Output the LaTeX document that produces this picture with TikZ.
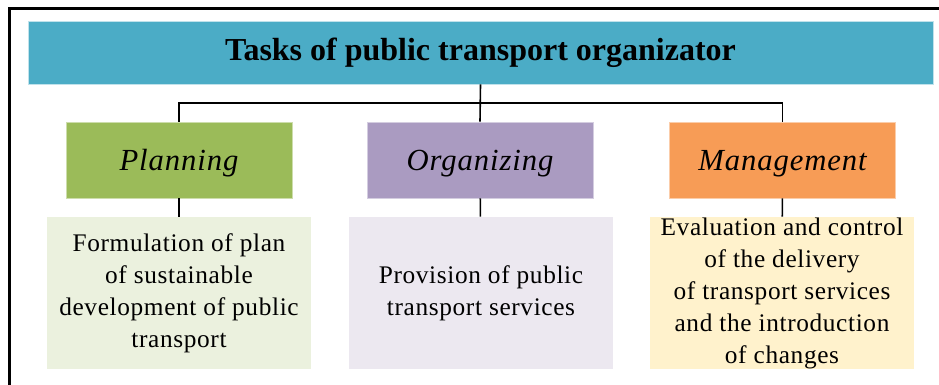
\documentclass[tikz,border=0pt]{standalone}
\usepackage{fontspec}
\setmainfont{Liberation Serif}
\newfontfamily\descfont[LetterSpace=2.5]{Liberation Serif}
\newfontfamily\taskfont[LetterSpace=3]{Liberation Serif}

\definecolor{headblue}{HTML}{4BACC6}
\definecolor{plangreen}{HTML}{9BBB59}
\definecolor{orgviolet}{HTML}{AA9BC1}
\definecolor{mgmtorange}{HTML}{F79C56}
\definecolor{planlight}{HTML}{EBF1DE}
\definecolor{orglight}{HTML}{ECE8F0}
\definecolor{mgmtlight}{HTML}{FFF2CC}

\tikzset{
  headbox/.style={fill=headblue, draw=headblue!35!white, line width=0.6pt, minimum width=678.75pt, minimum height=47.25pt, inner sep=0pt, font=\fontsize{24}{29}\selectfont\bfseries},
  taskbox/.style={line width=0.4pt, minimum width=169.5pt, minimum height=57pt, inner sep=0pt, text depth=0pt, font=\taskfont\fontsize{23}{28}\selectfont\itshape},
  descbox/.style={minimum width=198pt, minimum height=114pt, inner sep=0pt, align=center, font=\descfont\fontsize{19}{24}\selectfont},
  link/.style={line width=1.2pt, black}
}

\begin{document}
\begin{tikzpicture}[x=0.75pt,y=-0.75pt]

\useasboundingbox (0,0) rectangle (939,385);
\draw[line width=2.25pt] (9,385) -- (9,9) -- (939,9);

\node[headbox] (head) at (480.5,52.5) {Tasks of public transport organizator};

\node[taskbox, fill=plangreen, draw=plangreen!50!white] (plan) at (179,160) {Planning};
\node[taskbox, fill=orgviolet, draw=orgviolet!50!white] (org) at (480,160) {Organizing};
\node[taskbox, fill=mgmtorange, draw=mgmtorange!50!white] (mgmt) at (782.5,160) {Management};

\node[descbox, fill=planlight] (plantext) at (179,293) {Formulation of plan\\of sustainable\\development of public\\transport};
\node[descbox, fill=orglight] (orgtext) at (481,293) {Provision of public\\transport services};
\node[descbox, fill=mgmtlight] (mgmttext) at (782,293) {Evaluation and control\\of the delivery\\of transport services\\and the introduction\\of changes};

\coordinate (bus) at (480.5,103);
\draw[link] (plan.north) |- (bus) -| (mgmt.north);
\draw[link] (head.south) -- (org.north);
\draw[link] (plan) -- (plantext);
\draw[link] (org) -- (orgtext);
\draw[link] (mgmt) -- (mgmttext);

\end{tikzpicture}
\end{document}
